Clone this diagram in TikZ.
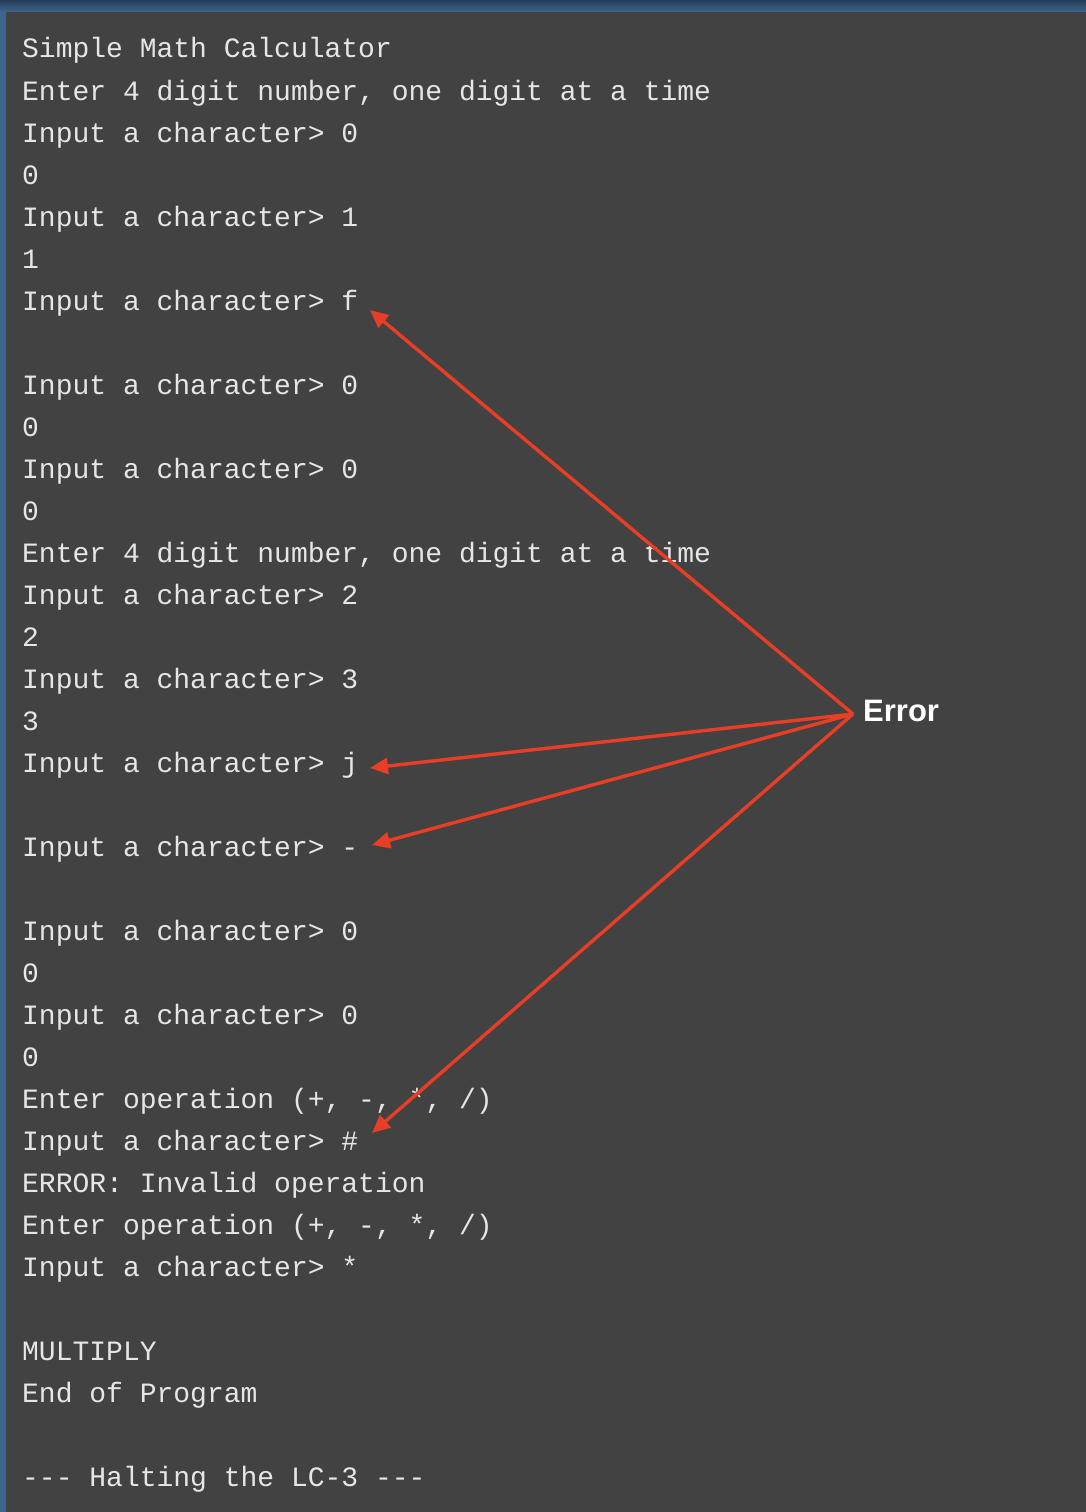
\documentclass[tikz,border=0pt]{standalone}
\usepackage{fontspec}
\setmonofont{Liberation Mono}
\newfontfamily\labelfont{Liberation Sans}
\usetikzlibrary{arrows.meta}
\definecolor{termbg}{RGB}{66,66,66}
\definecolor{termframe}{RGB}{62,101,144}
\definecolor{termtext}{RGB}{230,230,230}
\definecolor{errred}{RGB}{232,62,38}
\begin{document}
\begin{tikzpicture}[x=1pt,y=-1pt]
        \tikzset{tx/.style={anchor=base west,inner sep=0pt,text=termtext,font=\ttfamily\fontsize{28}{28}\selectfont}};
        \tikzset{line/.style={draw=errred,line width=3.4pt,-{Triangle[length=18pt,width=16pt]}}};
        \useasboundingbox (0,0) rectangle (1086,1512);
        
        % window
        \fill[termframe] (0,0) rectangle (1086,1512);
        \shade[top color=termframe!60!black,bottom color=termframe] (0,0) rectangle (1086,12);
        \fill[termbg] (6,12) rectangle (1086,1512);
        
        % terminal output
        \node[tx] (l0) at (22,58) {Simple Math Calculator};
        \node[tx] (l1) at (22,100) {Enter 4 digit number, one digit at a time};
        \node[tx] (l2) at (22,142) {Input a character> 0};
        \node[tx] (l3) at (22,184) {0};
        \node[tx] (l4) at (22,226) {Input a character> 1};
        \node[tx] (l5) at (22,268) {1};
        \node[tx] (l6) at (22,310) {Input a character> f};
        \node[tx] (l8) at (22,394) {Input a character> 0};
        \node[tx] (l9) at (22,436) {0};
        \node[tx] (l10) at (22,478) {Input a character> 0};
        \node[tx] (l11) at (22,520) {0};
        \node[tx] (l12) at (22,562) {Enter 4 digit number, one digit at a time};
        \node[tx] (l13) at (22,604) {Input a character> 2};
        \node[tx] (l14) at (22,646) {2};
        \node[tx] (l15) at (22,688) {Input a character> 3};
        \node[tx] (l16) at (22,730) {3};
        \node[tx] (l17) at (22,772) {Input a character> j};
        \node[tx] (l19) at (22,856) {Input a character> -};
        \node[tx] (l21) at (22,940) {Input a character> 0};
        \node[tx] (l22) at (22,982) {0};
        \node[tx] (l23) at (22,1024) {Input a character> 0};
        \node[tx] (l24) at (22,1066) {0};
        \node[tx] (l25) at (22,1108) {Enter operation (+, -, *, /)};
        \node[tx] (l26) at (22,1150) {Input a character> \#};
        \node[tx] (l27) at (22,1192) {ERROR: Invalid operation};
        \node[tx] (l28) at (22,1234) {Enter operation (+, -, *, /)};
        \node[tx] (l29) at (22,1276) {Input a character> *};
        \node[tx] (l31) at (22,1360) {MULTIPLY};
        \node[tx] (l32) at (22,1402) {End of Program};
        \node[tx] (l34) at (22,1486) {--- Halting the LC-3 ---};
        
        % error callout
        \coordinate (err) at (853,714);
        \node[anchor=west,inner sep=0pt,text=white,font=\labelfont\bfseries\fontsize{31}{31}\selectfont] (errlabel) at (863,711) {Error};
        \coordinate (tipf) at (370,310);
        \coordinate (tipj) at (370,768);
        \coordinate (tipdash) at (372,845);
        \coordinate (tiphash) at (372,1133);
        \draw[line] (err) -- (tipf);
        \draw[line] (err) -- (tipj);
        \draw[line] (err) -- (tipdash);
        \draw[line] (err) -- (tiphash);
    \end{tikzpicture}
\end{document}
